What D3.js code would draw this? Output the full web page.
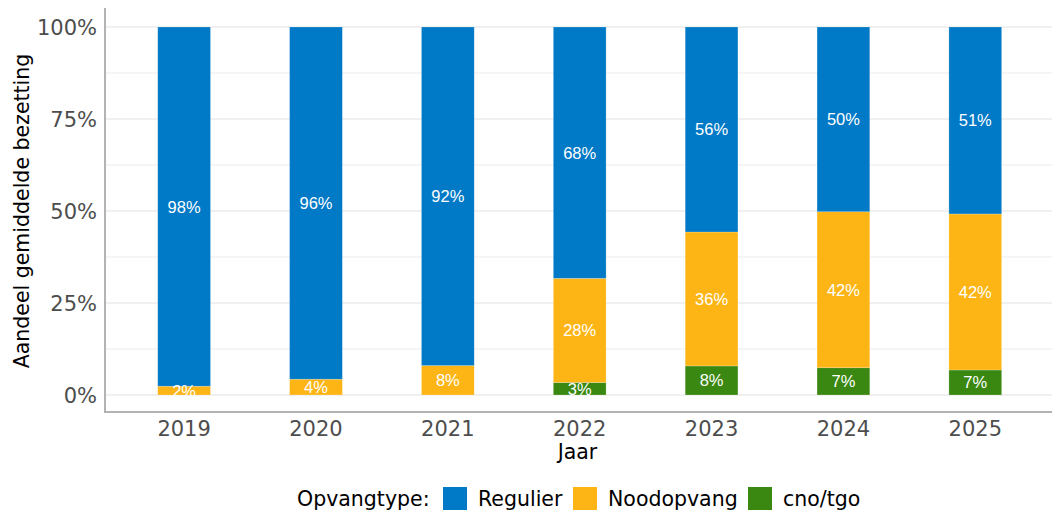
<!DOCTYPE html>
<html>
<head>
<meta charset="utf-8">
<style>
  body { margin: 0; background: #fff; }
  svg { display: block; }
</style>
</head>
<body>
<div id="chart"></div>
<script src="https://d3js.org/d3.v7.min.js"></script>
<script>
// data (percent)
const years = ['2019', '2020', '2021', '2022', '2023', '2024', '2025']
const types = ['Regulier', 'Noodopvang', 'cno/tgo']
const regulier   = [97.6, 95.7, 92.0, 68.3, 55.7, 50.2, 50.8]
const noodopvang = [2.4, 4.3, 8.0, 28.3, 36.4, 42.4, 42.4]
const cnotgo     = [0, 0, 0, 3.4, 7.9, 7.4, 6.8]
const yTicks = [0, 25, 50, 75, 100]
const colors = ['#0079c6', '#fdb515', '#3a8811']

const width = 1052, height = 515
const plot = {left: 105, right: 1052, top: 8, bottom: 412}

const svg = d3.select('#chart').append('svg')
    .attr('width', width)
    .attr('height', height)

const table = years.map((y, i) => ({year: y, 'Regulier': regulier[i], 'Noodopvang': noodopvang[i], 'cno/tgo': cnotgo[i]}))

// stack from bottom: cno/tgo, Noodopvang, Regulier
const stack = d3.stack().keys(types.slice().reverse())(table)

// ggplot style discrete axis: 0.6 units expansion each side, bars 0.4 wide
const x = d3.scaleBand()
    .domain(years)
    .range([plot.left, 1054.4])
    .paddingInner(0.6)
    .paddingOuter(0.4)

const cx = d => x(d) + x.bandwidth() / 2
const barW = x.bandwidth()

const y = d3.scaleLinear().domain([0, 100]).range([395, 27])

// gridlines
svg.append('g').selectAll('line')
    .data(d3.range(0, 101, 12.5))
    .join('line')
    .attr('x1', plot.left).attr('x2', plot.right)
    .attr('y1', d => y(d)).attr('y2', d => y(d))
    .attr('stroke', '#ebebeb')
    .attr('stroke-width', d => d % 25 === 0 ? 1.4 : 1)

// bars
const layers = svg.append('g').selectAll('g')
    .data(stack)
    .join('g')
    .attr('fill', d => colors[types.indexOf(d.key)])

layers.selectAll('rect')
    .data(d => d.filter(s => s[1] - s[0] > 0))
    .join('rect')
    .attr('x', d => cx(d.data.year) - barW / 2)
    .attr('width', barW)
    .attr('y', d => y(d[1]))
    .attr('height', d => y(d[0]) - y(d[1]))
    .attr('stroke', 'rgba(255,255,255,0.35)')
    .attr('stroke-width', 0.6)

// labels
const labels = svg.append('g')
    .attr('font-family', '"Liberation Sans", Arial, sans-serif')
    .attr('font-size', 16.5)
    .attr('fill', '#fff')
    .attr('text-anchor', 'middle')

stack.forEach(layer => {
    labels.selectAll(null)
        .data(layer.filter(s => s[1] - s[0] > 0))
        .join('text')
        .attr('x', d => cx(d.data.year))
        .attr('y', d => y((d[0] + d[1]) / 2))
        .attr('dy', '0.36em')
        .text(d => Math.round(d[1] - d[0]) + '%')
})

// axes lines
svg.append('line')
    .attr('x1', plot.left).attr('x2', plot.left)
    .attr('y1', plot.top).attr('y2', plot.bottom)
    .attr('stroke', '#b3b3b3').attr('stroke-width', 2)
svg.append('line')
    .attr('x1', plot.left - 1).attr('x2', plot.right)
    .attr('y1', plot.bottom).attr('y2', plot.bottom)
    .attr('stroke', '#b3b3b3').attr('stroke-width', 2)

// y tick labels
svg.append('g').selectAll('text')
    .data(yTicks)
    .join('text')
    .attr('x', 97)
    .attr('y', d => y(d))
    .attr('dy', '0.36em')
    .attr('text-anchor', 'end')
    .attr('font-family', '"DejaVu Sans", Verdana, sans-serif')
    .attr('font-size', 21)
    .attr('fill', '#4d4d4d')
    .text(d => d + '%')

// x tick labels
svg.append('g').selectAll('text')
    .data(years)
    .join('text')
    .attr('x', d => cx(d))
    .attr('y', 436)
    .attr('text-anchor', 'middle')
    .attr('font-family', '"DejaVu Sans", Verdana, sans-serif')
    .attr('font-size', 21)
    .attr('fill', '#4d4d4d')
    .text(d => d)

// axis titles
svg.append('text')
    .attr('x', (plot.left + 1050) / 2)
    .attr('y', 459)
    .attr('text-anchor', 'middle')
    .attr('font-family', '"DejaVu Sans", Verdana, sans-serif')
    .attr('font-size', 20.5)
    .attr('fill', '#000')
    .text('Jaar')

svg.append('text')
    .attr('transform', `translate(29,${(27 + 395) / 2}) rotate(-90)`)
    .attr('text-anchor', 'middle')
    .attr('font-family', '"DejaVu Sans", Verdana, sans-serif')
    .attr('font-size', 20.5)
    .attr('fill', '#000')
    .text('Aandeel gemiddelde bezetting')

// legend
const legend = svg.append('g')
    .attr('font-family', '"DejaVu Sans", Verdana, sans-serif')
    .attr('font-size', 20.5)
    .attr('fill', '#000')

legend.append('text')
    .attr('x', 297).attr('y', 506)
    .text('Opvangtype:')

const keyX = [443, 573, 748]
types.forEach((t, i) => {
    legend.append('rect')
        .attr('x', keyX[i]).attr('y', 487)
        .attr('width', 24).attr('height', 23)
        .attr('fill', colors[i])
    legend.append('text')
        .attr('x', keyX[i] + 35).attr('y', 506)
        .text(t)
})
</script>
</body>
</html>
